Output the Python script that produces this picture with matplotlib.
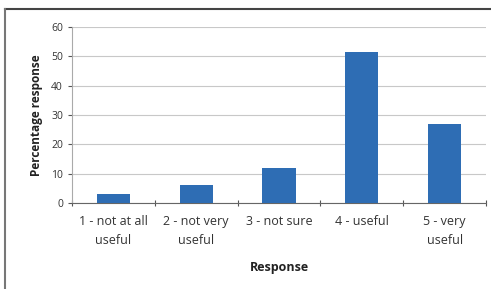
import matplotlib.pyplot as plt
from matplotlib.lines import Line2D

categories = ["1 - not at all\nuseful", "2 - not very\nuseful", "3 - not sure", "4 - useful", "5 - very\nuseful"]
percent = [3, 6, 12, 51.5, 27]
yticks = [0, 10, 20, 30, 40, 50, 60]

plt.rcParams['font.family'] = ['Open Sans', 'DejaVu Sans']

fig = plt.figure(figsize=(4.91, 2.89), dpi=100)
ax = fig.add_axes([0.1466, 0.2976, 0.8432, 0.609])

x = list(range(len(categories)))
ax.bar(x, percent, width=0.4, color="#2E6DB4", zorder=3)

ax.set_xlim(-0.5, len(categories) - 0.5)
ax.set_ylim(0, 60)
ax.set_yticks(yticks)
ax.tick_params(axis='y', labelsize=7.5, colors='#555555', length=3, width=0.8, labelcolor='#333333')
ax.yaxis.grid(True, color='#c8c8c8', linewidth=0.8, zorder=0)

ax.set_xticks(x)
ax.set_xticklabels(categories, fontsize=9, color='#333333', linespacing=1.6)
ax.tick_params(axis='x', length=0, pad=9)
# category separator ticks
ax.set_xticks([i - 0.5 for i in range(len(categories) + 1)], minor=True)
ax.tick_params(axis='x', which='minor', length=4, width=0.8, color='#555555', direction='inout')

for s in ['top', 'right']:
    ax.spines[s].set_visible(False)
ax.spines['left'].set_color('#aaaaaa')
ax.spines['bottom'].set_color('#666666')

ax.set_ylabel("Percentage response", fontsize=8.5, fontweight='bold', color='#222222', labelpad=6)
ax.set_xlabel("Response", fontsize=9, fontweight='bold', color='#222222', labelpad=10)

# frame around the chart (only top and left visible in crop)
fig.add_artist(Line2D([0.01, 1.0], [0.969, 0.969], color='#444444', linewidth=1.5, transform=fig.transFigure))
fig.add_artist(Line2D([0.01, 0.01], [0.0, 0.969], color='#777777', linewidth=1.5, transform=fig.transFigure))

fig.savefig("out.png", dpi=100)
